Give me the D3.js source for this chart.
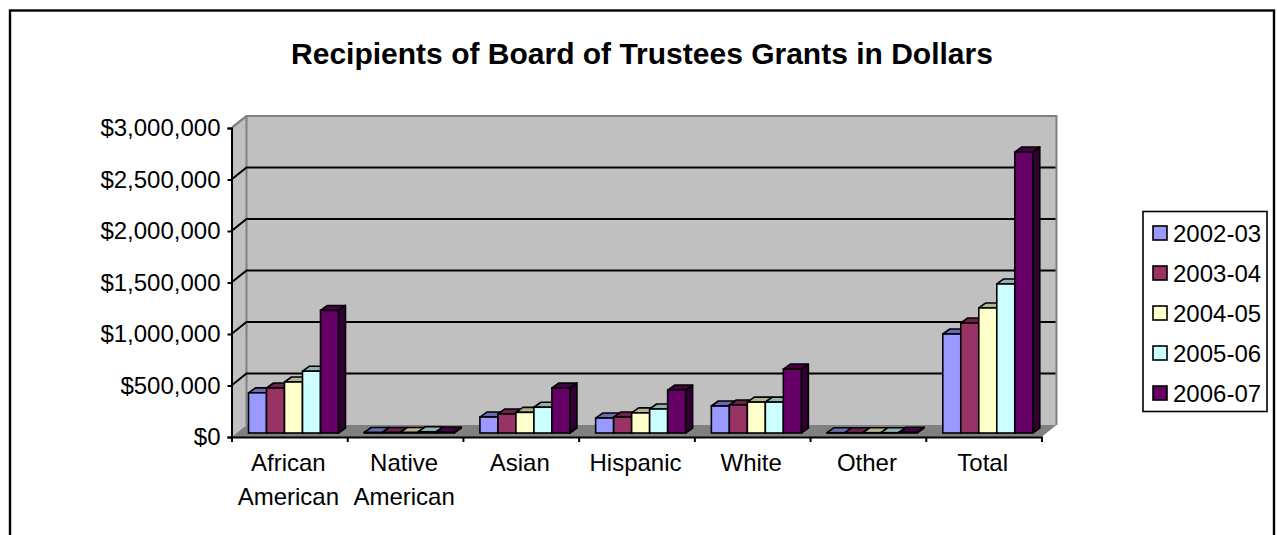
<!DOCTYPE html>
<html><head><meta charset="utf-8">
<script src="https://cdn.jsdelivr.net/npm/d3@7/dist/d3.min.js"></script>
<style>html,body{margin:0;padding:0;background:#fff}svg{display:block}text{font-family:"Liberation Sans",Arial,sans-serif;fill:#000}</style>
</head><body><svg id="c" width="1277" height="535"></svg>
<script>
const title = "Recipients of Board of Trustees Grants in Dollars";
const categories = ["African American","Native American","Asian","Hispanic","White","Other","Total"];
const seriesNames = ["2002-03","2003-04","2004-05","2005-06","2006-07"];
const seriesColors = ["#9999FF","#993366","#FFFFCC","#CCFFFF","#660066"];
const v0203 = [390000,5000,155000,145000,262000,3000,961000];
const v0304 = [437000,5000,185000,155000,272000,3000,1068000];
const v0405 = [495000,5000,200000,195000,300000,3000,1214000];
const v0506 = [600000,12000,250000,233000,300000,3000,1447000];
const v0607 = [1190000,10000,437000,417000,620000,8000,2728000];
const allSeries = [v0203,v0304,v0405,v0506,v0607];
const yTicks = [0,500000,1000000,1500000,2000000,2500000,3000000];

const svg = d3.select("#c");
const L=231.5,R=1041.5,B=437,T=128,WX=15,WY=12,BY=4,DX=7,DY=5,AXW=2;
const y = d3.scaleLinear().domain([0,3000000]).range([B,T]);
const x = d3.scaleBand().domain(categories).range([L,R]);
const bx = d3.scaleBand().domain(seriesNames).range([17,107]);
const poly = (pts,fill,stroke,sw)=>svg.append("polygon").attr("points",pts.map(p=>p.join(",")).join(" ")).attr("fill",fill).attr("stroke",stroke||"none").attr("stroke-width",sw||0).attr("stroke-linejoin","round");

svg.append("rect").attr("x",10).attr("y",10.5).attr("width",1264).attr("height",560).attr("fill","#fff").attr("stroke","#000").attr("stroke-width",2.4);
svg.append("text").attr("x",642).attr("y",63.5).attr("text-anchor","middle").attr("font-size",30).attr("font-weight","bold").text(title);

// walls and floor
poly([[L,B],[L+WX,B-WY],[L+WX,T-WY],[L,T]],"#C0C0C0");
poly([[L+WX,B-WY],[R+WX,B-WY],[R+WX,T-WY],[L+WX,T-WY]],"#C0C0C0");
poly([[L,B],[R,B],[R+WX,B-WY],[L+WX,B-WY]],"#808080");
svg.append("path").attr("fill","none").attr("stroke","#808080").attr("stroke-width",2)
  .attr("d",`M${L+1},${T-1}L${L+WX},${T-WY}H${R+WX}V${B-WY}M${L+WX},${T-WY}V${B-WY}`);

// gridlines
svg.append("g").selectAll("path").data(yTicks.slice(1)).join("path").attr("fill","none").attr("stroke","#000").attr("stroke-width",d=>d===3000000?0:2)
  .attr("d",d=>`M${L},${y(d)}L${L+WX},${y(d)-WY}H${R+WX-1}`);
svg.append("path").attr("fill","none").attr("stroke","#808080").attr("stroke-width",2).attr("d",`M${L},${T}L${L+WX},${T-WY}`);

// bars
categories.forEach((c,ci)=>{
  seriesNames.forEach((s,si)=>{
    const col=d3.color(seriesColors[si]);
    const x0=x(c)+bx(s), x1=x0+bx.bandwidth();
    const yb=B-BY, yt=y(allSeries[si][ci])-BY;
    poly([[x1,yt],[x1+DX,yt-DY],[x1+DX,yb-DY],[x1,yb]],col.darker(2).toString(),"#000",1.6);
    poly([[x0,yt],[x0+DX,yt-DY],[x1+DX,yt-DY],[x1,yt]],col.darker(1).toString(),"#000",1.6);
    svg.append("rect").attr("x",x0).attr("y",yt).attr("width",x1-x0).attr("height",yb-yt).attr("fill",seriesColors[si]).attr("stroke","#000").attr("stroke-width",1.6);
  });
});

// axes
const yAxis = svg.append("g").attr("transform",`translate(${L},0)`)
  .call(d3.axisLeft(y).tickValues(yTicks).tickSize(4).tickPadding(7).tickFormat(d=>"$"+d3.format(",")(d)));
const xAxis = svg.append("g").attr("transform",`translate(0,${B})`)
  .call(d3.axisBottom(d3.scalePoint().domain(d3.range(categories.length+1)).range([L,R])).tickSize(5).tickFormat(""));
[yAxis,xAxis].forEach(g=>{g.selectAll("path,line").attr("stroke","#000").attr("stroke-width",AXW);g.attr("fill","none");});
yAxis.selectAll("text").attr("font-size",24).attr("font-family",'"Liberation Sans"').attr("fill","#000");

// category labels
const lab = svg.append("g").selectAll("text").data(categories).join("text")
  .attr("text-anchor","middle").attr("font-size",24).attr("y",471);
lab.each(function(d){
  d.split(" ").forEach((w,i)=>d3.select(this).append("tspan").attr("x",x(d)+x.bandwidth()/2-1).attr("dy",i?34:0).text(w));
});

// legend
svg.append("rect").attr("x",1143).attr("y",211.5).attr("width",124).attr("height",200).attr("fill","#fff").attr("stroke","#000").attr("stroke-width",1.6);
const leg = svg.append("g").selectAll("g").data(seriesNames).join("g").attr("transform",(d,i)=>`translate(1153,${233+i*40})`);
leg.append("rect").attr("x",0).attr("y",-7).attr("width",14).attr("height",14).attr("fill",(d,i)=>seriesColors[i]).attr("stroke","#000").attr("stroke-width",1.6);
leg.append("text").attr("x",20).attr("y",8.5).attr("font-size",24).text(d=>d);
</script></body></html>
